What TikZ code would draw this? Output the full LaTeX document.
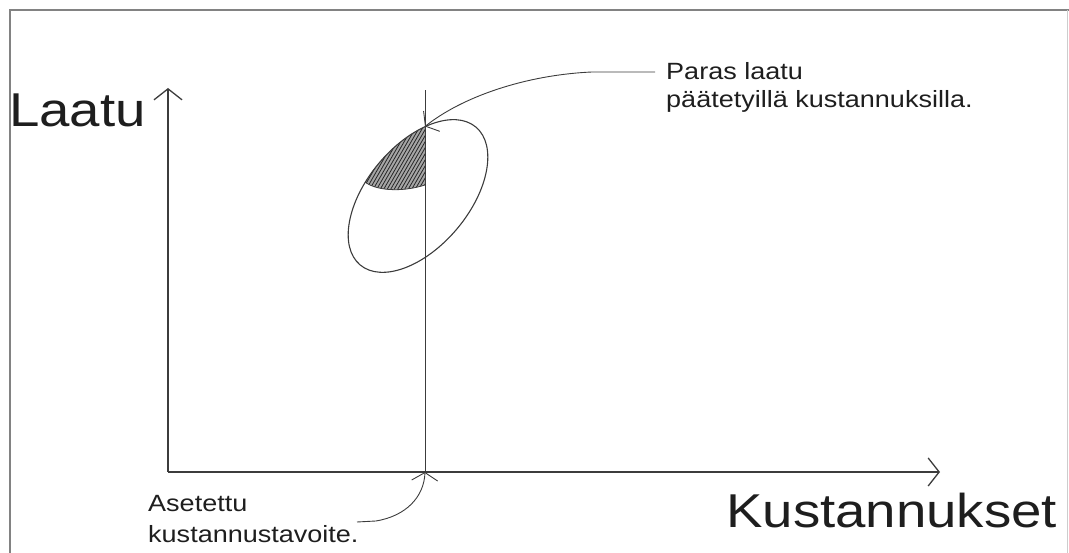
\documentclass[tikz,border=0pt]{standalone}
\usepackage{fontspec}
\setmainfont{Liberation Sans}
\newfontfamily\widefont[FakeStretch=1.15]{Liberation Sans}
\usepackage{tikz}
\usetikzlibrary{calc,arrows.meta,shapes.geometric}
\usepackage{xcolor}
\definecolor{inkc}{RGB}{30,30,30}
\definecolor{linec}{RGB}{60,60,60}
\definecolor{framec}{RGB}{130,130,130}
\tikzset{
  frm/.style={framec,line width=1.6pt},
  axis/.style={-{Straight Barb[length=11pt,width=28pt]},linec,line width=1.3pt},
  cut/.style={linec,line width=1pt},
  lead/.style={-{Straight Barb[length=8pt,width=26pt]},linec,line width=0.9pt},
  big/.style={anchor=base west,inner sep=0pt,inkc,font=\widefont\fontsize{47.5}{56}\selectfont},
  lab/.style={anchor=base west,inner sep=0pt,inkc,align=left},
  hatch/.style={black!85,line width=0.8pt},
}
\begin{document}
\begin{tikzpicture}[x=1pt,y=1pt]
  \useasboundingbox (0,0) rectangle (1069,553);
  % frame of the scan
  \draw[frm] (10,0) -- (10,543) -- (1069,543);
  \draw[framec!40,line width=1pt] (1067,543) -- (1067,0);
  % axes
  \coordinate (O) at (168,81); \coordinate (ytop) at (168,465); \coordinate (xend) at (940,81);
  \draw[axis] (O) -- (ytop); \draw[axis] (O) -- (xend);
  \node[big] (laatu) at (9,426) {Laatu};
  \node[big] (kust) at (726,25) {Kustannukset};
  % cost target line
  \coordinate (ctop) at (425,463); \coordinate (cbot) at (425,81);
  \draw[cut] (cbot) -- (ctop);
  % feasible region and its shaded best part
  \begin{scope}
    \clip[rotate around={50:(418,357)}] (418,357) ellipse [x radius=90, y radius=51];
    \clip (330,500) -- (425,500) -- (425,368) .. controls (400,360) and (375,363) .. (365,371) -- (330,371) -- cycle;
    \fill[black!35] (330,340) rectangle (425,500);
    \foreach \k in {300,303.5,...,432}{
      \draw[hatch] (\k,340) -- ++(60:150);}
  \end{scope}
  \draw[linec,line width=0.8pt] (425,368) .. controls (400,360) and (375,363) .. (365,371);
  \node[draw=linec,line width=1.1pt,ellipse,minimum width=180pt,minimum height=102pt,inner sep=0pt,rotate=50] (region) at (418,357) {};
  \coordinate (best) at (425,426.5);
  % annotations
  \node[lab,font=\widefont\fontsize{23.5}{28}\selectfont] (paras) at (666,445) {Paras laatu\\päätetyillä kustannuksilla.};
  \coordinate (ptail) at (655,481);
  \draw[lead] (ptail) -- (592,481) .. controls (525,478) and (462,456) .. (best);
  \node[lab,font=\widefont\fontsize{23.5}{31}\selectfont] (aset) at (148,10) {Asetettu\\kustannustavoite.};
  \coordinate (atail) at (357,31);
  \draw[lead] (atail) -- (376,32) .. controls (406,37) and (424,56) .. (cbot);
\end{tikzpicture}
\end{document}
